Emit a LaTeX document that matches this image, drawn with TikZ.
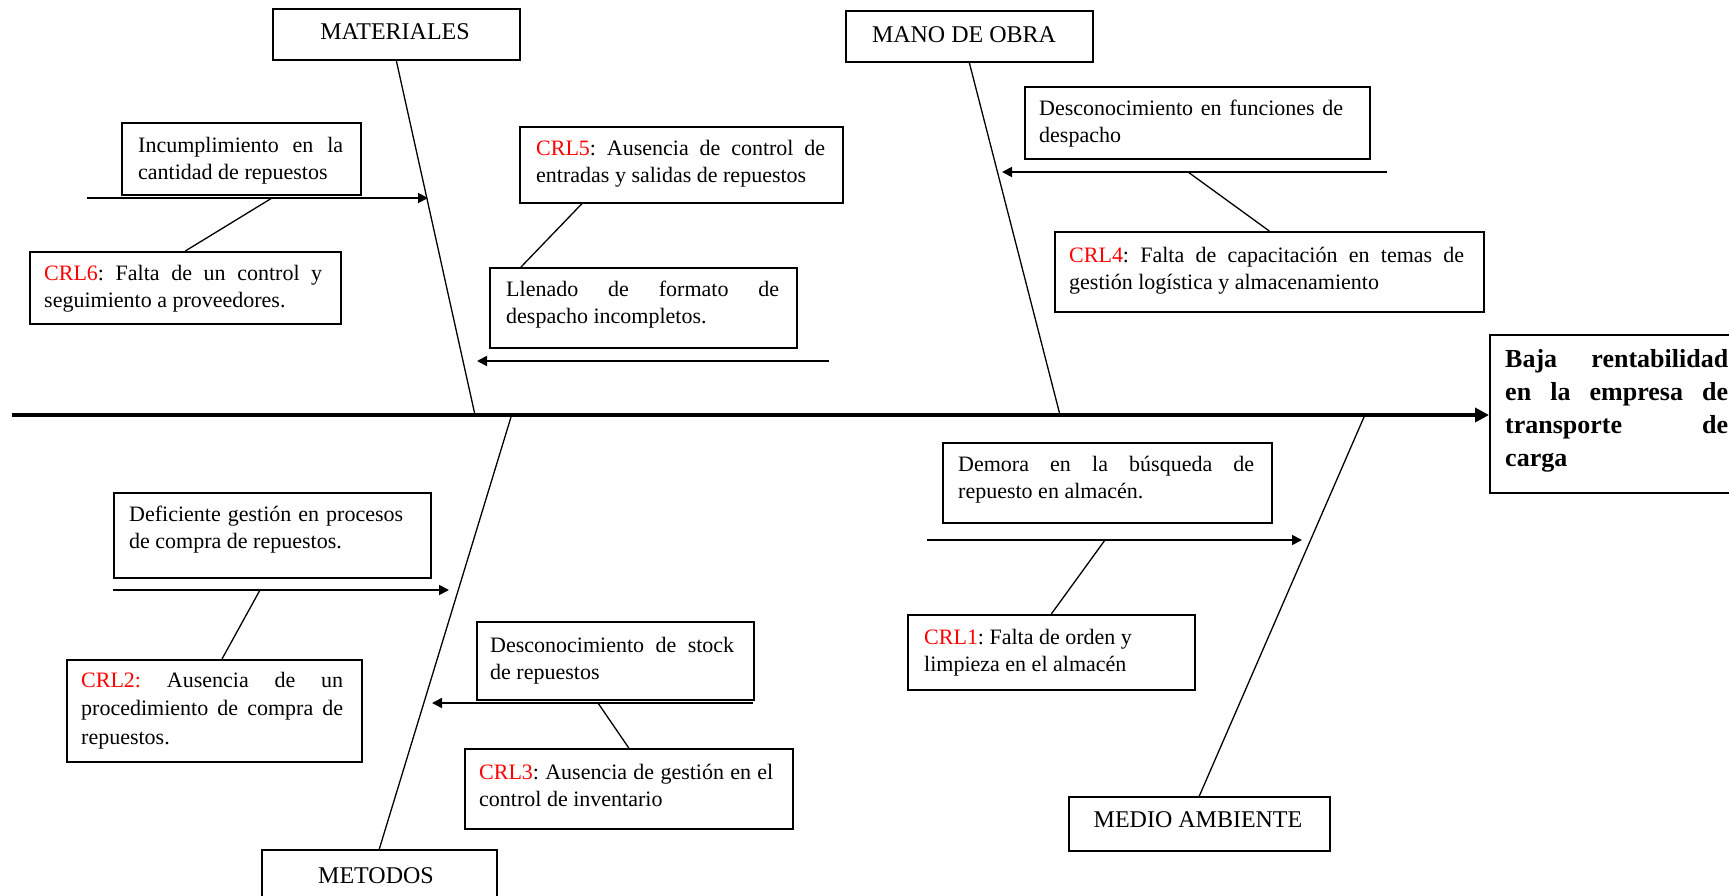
\documentclass[tikz,border=0pt]{standalone}
\usepackage{fontspec}
\setmainfont{Liberation Serif}
\usetikzlibrary{arrows.meta,calc}
\definecolor{crlred}{RGB}{255,0,0}
% a line stretched to a given width (in pt) by its inter-word spaces
\newcommand\jline[2]{\leavevmode\hbox to #1pt{\spaceskip=0.25em plus 1em\relax\xspaceskip=\spaceskip #2}}
\newcommand\crl[1]{\textcolor{crlred}{#1}}
\frenchspacing

\begin{document}
\begin{tikzpicture}[x=1pt,y=-1pt,
  box/.style={draw, line width=1.6pt, anchor=north west, inner sep=0pt},
  txt/.style={anchor=base west, inner sep=0pt, text width=430pt, align=flush left,
              font=\fontsize{22}{27.7}\selectfont},
  head/.style={anchor=base, inner sep=0pt, font=\fontsize{24}{28}\selectfont},
  bone/.style={line width=1.3pt},
  link/.style={line width=1.3pt},
  sub/.style={line width=1.8pt, -{Triangle[length=10pt,width=10pt]}},
  spine/.style={line width=4pt, -{Triangle[length=14pt,width=14pt]}}
]
\useasboundingbox (0,0) rectangle (1729,895);

% ---------- effect ----------
\node[box, minimum width=270pt, minimum height=158pt] (baja) at (1489,334) {};
\node[anchor=base west, inner sep=0pt, text width=300pt, align=flush left,
      font=\bfseries\fontsize{26}{33}\selectfont] (bajaT) at (1505,367)
  {\jline{223}{Baja rentabilidad}\\\jline{223}{en la empresa de}\\\jline{223}{transporte de}\\carga};

% ---------- spine ----------
\coordinate (s0) at (12,415);
\draw[spine] (s0) -- (s0 -| baja.west);

% ---------- category boxes ----------
\node[box, minimum width=247pt, minimum height=51pt] (mat) at (272,8) {};
\node[head] (matT) at (395,39) {MATERIALES};
\node[box, minimum width=247pt, minimum height=51pt] (mano) at (845,10) {};
\node[head] (manoT) at (964,42) {MANO DE OBRA};
\node[box, minimum width=235pt, minimum height=60pt] (met) at (261,849) {};
\node[head] (metT) at (376,883) {METODOS};
\node[box, minimum width=261pt, minimum height=54pt] (med) at (1068,796) {};
\node[head] (medT) at (1198,827) {MEDIO AMBIENTE};

% ---------- bones ----------
\coordinate (jMat) at (475,415);
\coordinate (jMano) at (1060,415);
\coordinate (jMet) at (511,417);
\coordinate (jMed) at (1364,417);
\draw[bone] (mat.south) -- (jMat);
\draw[bone] (mano.south) -- (jMano);
\draw[bone] (jMet) -- (met.north);
\draw[bone] (jMed) -- (med.north);

% ---------- MATERIALES causes ----------
\node[box, minimum width=239pt, minimum height=72pt] (inc) at (121,122) {};
\node[txt] (incT) at (138,152) {\jline{205}{Incumplimiento en la}\\cantidad de repuestos};
\node[box, minimum width=311pt, minimum height=72pt] (crl6) at (29,251) {};
\node[txt] (crl6T) at (44,280) {\jline{278}{\crl{CRL6}: Falta de un control y}\\seguimiento a proveedores.};
\node[box, minimum width=323pt, minimum height=76pt] (crl5) at (519,126) {};
\node[txt] (crl5T) at (536,155) {\jline{289}{\crl{CRL5}: Ausencia de control de}\\entradas y salidas de repuestos};
\node[box, minimum width=307pt, minimum height=80pt] (llen) at (489,267) {};
\node[txt] (llenT) at (506,296) {\jline{273}{Llenado de formato de}\\despacho incompletos.};

\coordinate (a1s) at (87,198);
\coordinate (a1e) at (428,198);
\draw[sub] (a1s) -- (a1e);
\coordinate (a1k) at (272,198);
\draw[link] (a1k) -- (crl6.north);

\coordinate (a2s) at (829,361);
\coordinate (a2e) at (477,361);
\draw[sub] (a2s) -- (a2e);
\draw[link] ($(crl5.south west)+(63,0)$) -- ($(llen.north west)+(32,0)$);

% ---------- MANO DE OBRA causes ----------
\node[box, minimum width=345pt, minimum height=72pt] (desf) at (1024,86) {};
\node[txt] (desfT) at (1039,115) {\jline{304}{Desconocimiento en funciones de}\\despacho};
\node[box, minimum width=429pt, minimum height=80pt] (crl4) at (1054,231) {};
\node[txt] (crl4T) at (1069,262) {\jline{395}{\crl{CRL4}: Falta de capacitación en temas de}\\gestión logística y almacenamiento};

\coordinate (a3s) at (1387,172);
\coordinate (a3e) at (1002,172);
\draw[sub] (a3s) -- (a3e);
\coordinate (a3k) at (1188,172);
\draw[link] (a3k) -- (crl4.north);

% ---------- METODOS causes ----------
\node[box, minimum width=317pt, minimum height=85pt] (defi) at (113,492) {};
\node[txt] (defiT) at (129,521) {\jline{274}{Deficiente gestión en procesos}\\de compra de repuestos.};
\node[box, minimum width=295pt, minimum height=102pt] (crl2) at (66,659) {};
\node[txt, font=\fontsize{22}{28.5}\selectfont] (crl2T) at (81,687)
  {\jline{262}{\crl{CRL2:} Ausencia de un}\\\jline{262}{procedimiento de compra de}\\repuestos.};
\node[box, minimum width=277pt, minimum height=78pt] (dest) at (476,621) {};
\node[txt] (destT) at (490,652) {\jline{244}{Desconocimiento de stock}\\de repuestos};
\node[box, minimum width=328pt, minimum height=80pt] (crl3) at (464,748) {};
\node[txt] (crl3T) at (479,779) {\jline{294}{\crl{CRL3}: Ausencia de gestión en el}\\control de inventario};

\coordinate (a4s) at (113,590);
\coordinate (a4e) at (449,590);
\draw[sub] (a4s) -- (a4e);
\coordinate (a4k) at (260,590);
\draw[link] (a4k) -- ($(crl2.north west)+(156,0)$);

\coordinate (a5s) at (753,703);
\coordinate (a5e) at (432,703);
\draw[sub] (a5s) -- (a5e);
\coordinate (a5k) at (598,703);
\draw[link] (a5k) -- (crl3.north);

% ---------- MEDIO AMBIENTE causes ----------
\node[box, minimum width=329pt, minimum height=80pt] (demo) at (942,442) {};
\node[txt] (demoT) at (958,471) {\jline{296}{Demora en la búsqueda de}\\repuesto en almacén.};
\node[box, minimum width=287pt, minimum height=75pt] (crl1) at (907,614) {};
\node[txt] (crl1T) at (924,644) {\crl{CRL1}: Falta de orden y\\limpieza en el almacén};

\coordinate (a6s) at (927,540);
\coordinate (a6e) at (1302,540);
\draw[sub] (a6s) -- (a6e);
\coordinate (a6k) at (1105,540);
\draw[link] (a6k) -- (crl1.north);

\end{tikzpicture}
\end{document}
